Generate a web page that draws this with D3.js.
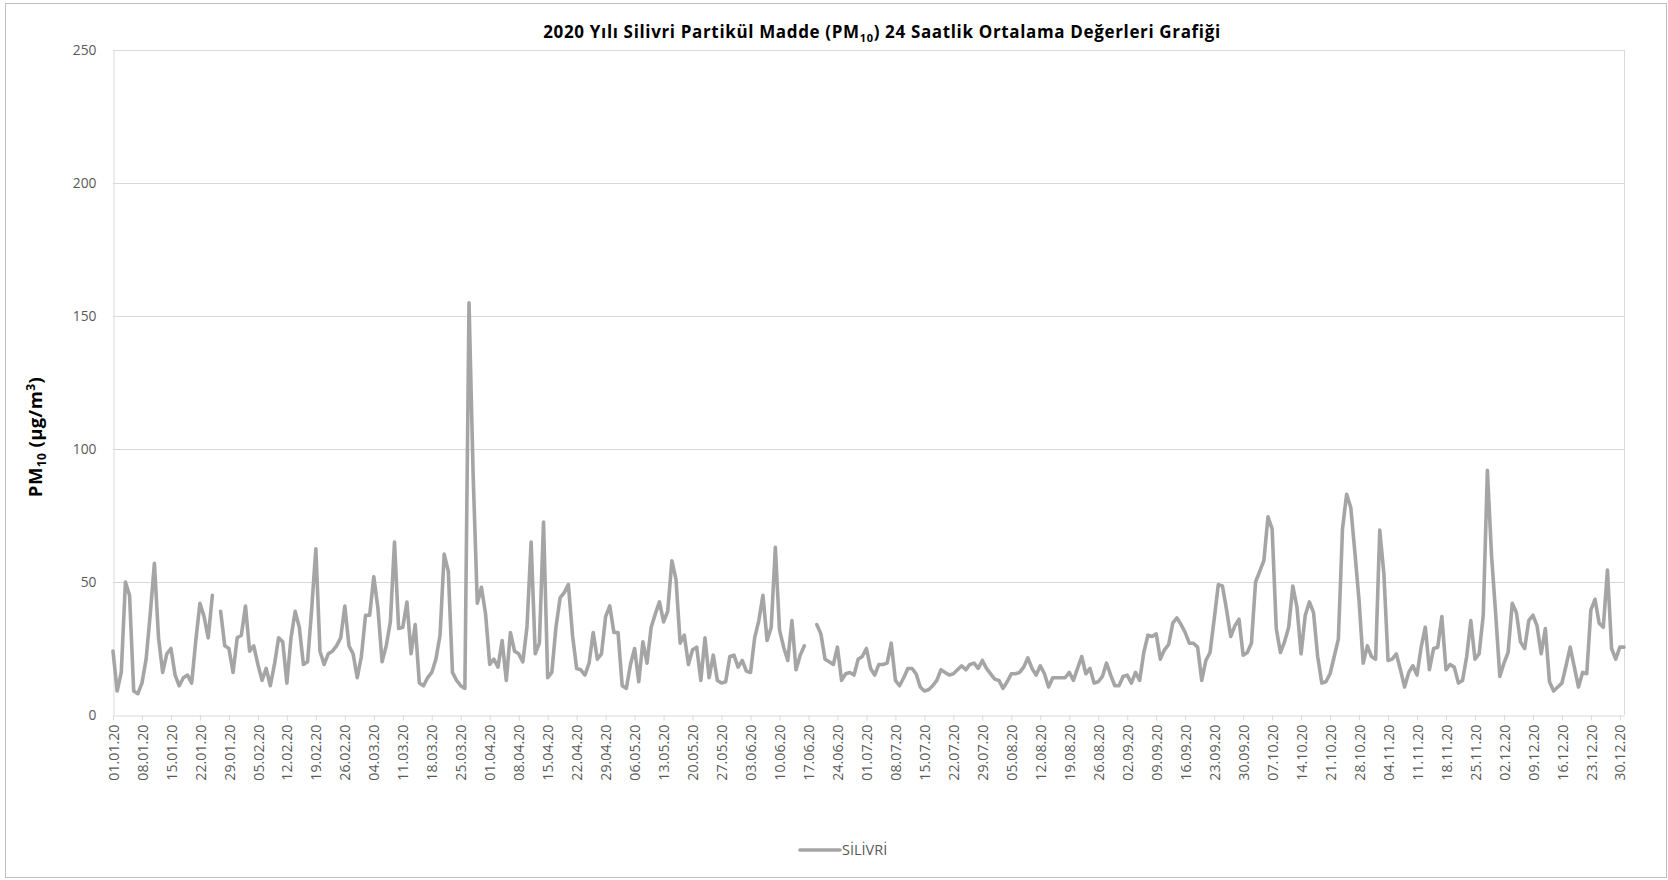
<!DOCTYPE html>
<html>
<head>
<meta charset="utf-8">
<script src="https://cdn.jsdelivr.net/npm/d3@7"></script>
<style>
  html, body { margin: 0; padding: 0; background: #fff; }
  svg { display: block; }
  text { font-family: "Open Sans", "DejaVu Sans", sans-serif; }
</style>
</head>
<body>
<svg id="chart" width="1668" height="880"></svg>
<script>
// Daily PM10 24-hour averages for Silivri, 2020 (µg/m³); null = no measurement
const seriesName = "SİLİVRİ";
const startDate = "2020-01-01";
const pm10 = [
  24, 9, 16, 50, 45, 9, 8, 12, 21, 38,
  57, 29, 16, 23, 25, 15, 11, 14, 15, 12,
  28, 42, 37, 29, 45, null, 39, 26, 25, 16,
  29, 30, 41, 24, 26, 19, 13, 17.5, 11, 19,
  29, 27.5, 12, 29, 39, 33, 19, 20, 40, 62.5,
  24, 19, 23, 24, 26, 29, 41, 26, 23, 14,
  22, 37.5, 37.5, 52, 40, 20, 26, 35, 65, 32.5,
  33, 42.5, 23, 34, 12, 11, 14, 16, 21, 30,
  60.5, 54, 16, 13, 11, 10, 155, 90, 42, 48,
  38, 19, 21, 18, 28, 13, 31, 24, 23, 20,
  33, 65, 23, 27, 72.5, 14, 16, 33, 44, 46,
  49, 30, 17.5, 17, 15, 19.5, 31, 21, 23, 37,
  41, 31, 31, 11, 10, 19, 25, 12.5, 27.5, 19.5,
  33, 38, 42.5, 35, 39, 58, 51, 27, 30, 19,
  24.5, 25.5, 13, 29, 14, 22.5, 13, 12, 12.5, 22,
  22.5, 18, 20.5, 16.5, 16, 29, 35.5, 45, 28, 33,
  63, 32, 25.5, 20.5, 35.5, 17, 22.5, 26, null, null,
  34, 30.5, 21, 20, 19, 25.5, 13, 15.5, 16, 15,
  21, 22, 25, 17.5, 15, 19, 19, 19.5, 27, 13,
  11, 14, 17.5, 17.5, 15.5, 10.5, 9, 9.5, 11, 13,
  17, 16, 15, 15.5, 17, 18.5, 17, 19, 19.5, 17.5,
  20.5, 17.5, 15.5, 13.5, 13, 10, 12.5, 15.5, 15.5, 16,
  18, 21.5, 17.5, 15, 18.5, 15.5, 10.5, 14, 14, 14,
  14, 16, 13, 17.5, 22, 15.5, 17.5, 12, 12.5, 14.5,
  19.5, 15, 11, 11, 14.5, 15, 12, 16, 13, 23.5,
  30, 29.5, 30.5, 21, 24.5, 26.5, 34.5, 36.5, 34, 31,
  27, 27, 25.5, 13, 20.5, 23.5, 36, 49, 48.5, 39.5,
  29.5, 33.5, 36, 22.5, 23.5, 27, 50, 54, 58, 74.5,
  70, 32.5, 23.5, 27.5, 33, 48.5, 40.5, 23, 37.5, 42.5,
  38.5, 22, 12, 12.5, 15.5, 22, 28.5, 70, 83, 78,
  61, 43, 19.5, 26, 22, 21, 69.5, 53, 20.5, 21,
  23, 17, 10.5, 16, 18.5, 15, 25.5, 33, 17, 25,
  25.5, 37, 17, 19, 18, 12, 13, 22, 35.5, 21,
  23, 37.5, 92, 60, 38, 14.5, 19.5, 23.5, 42, 38.5,
  27.5, 25, 35.5, 37.5, 33.5, 23, 32.5, 12.5, 9, 10.5,
  12, 18.5, 25.5, 18, 10.5, 16, 15.5, 39.5, 43.5, 34.5,
  33, 54.5, 25, 21, 25.5, 25.5
];
const yTicks = [0, 50, 100, 150, 200, 250];
const tickEveryDays = 7;

// Category axis: one entry per day of the year
const parseDay = d3.timeParse("%Y-%m-%d");
const first = parseDay(startDate);
const days = d3.timeDay.range(first, d3.timeDay.offset(first, pm10.length));
const fmtDay = d3.timeFormat("%d.%m.%y");
const tickDays = days.filter((d, i) => i % tickEveryDays === 0);

const svg = d3.select("#chart");
const W = 1668, H = 880;
const plot = { left: 113, right: 1624, top: 50, bottom: 715 };

const x = d3.scaleTime().domain([days[0], days[days.length - 1]]).range([plot.left, plot.right]);
const y = d3.scaleLinear().domain([0, 250]).range([plot.bottom, plot.top]);

const gridColor = "#d9d9d9";
const lineColor = "#a5a5a5";
const labelColor = "#595959";

// Chart frame
svg.append("rect")
  .attr("x", 5.5).attr("y", 3.5)
  .attr("width", W - 7).attr("height", H - 6)
  .attr("fill", "none").attr("stroke", "#bfbfbf").attr("stroke-width", 1);

// Horizontal gridlines
svg.append("g")
  .selectAll("line")
  .data(yTicks.filter(v => v > 0))
  .join("line")
  .attr("x1", plot.left).attr("x2", plot.right)
  .attr("y1", d => Math.round(y(d)) + 0.5).attr("y2", d => Math.round(y(d)) + 0.5)
  .attr("stroke", gridColor).attr("stroke-width", 1);

// Right edge of the plot area
svg.append("line")
  .attr("x1", plot.right + 0.5).attr("x2", plot.right + 0.5)
  .attr("y1", plot.top).attr("y2", plot.bottom)
  .attr("stroke", gridColor);

// Y axis
const yAxis = svg.append("g")
  .attr("transform", `translate(${plot.left + 0.5},0)`)
  .call(d3.axisLeft(y).tickValues(yTicks).tickSize(0).tickPadding(17));
yAxis.select(".domain").attr("stroke", gridColor);
yAxis.selectAll("text")
  .attr("fill", labelColor)
  .style("font-size", "13.8px");

// X axis with rotated date labels
const xAxis = svg.append("g")
  .attr("transform", `translate(0,${plot.bottom + 0.5})`)
  .call(d3.axisBottom(x).tickValues(tickDays).tickFormat(fmtDay).tickSize(5).tickSizeOuter(0));
xAxis.select(".domain").attr("stroke", gridColor);
xAxis.selectAll(".tick line").attr("stroke", gridColor);
xAxis.selectAll("text")
  .attr("transform", "rotate(-90)")
  .attr("x", -9).attr("y", 0).attr("dy", "0.36em")
  .style("text-anchor", "end")
  .attr("fill", labelColor)
  .style("font-size", "14.2px");

// PM10 series
const line = d3.line()
  .defined(d => d != null)
  .x((d, i) => x(days[i]))
  .y(d => y(d));

svg.append("path")
  .datum(pm10)
  .attr("d", line)
  .attr("fill", "none")
  .attr("stroke", lineColor)
  .attr("stroke-width", 3.6)
  .attr("stroke-linejoin", "round")
  .attr("stroke-linecap", "round");

// Title
const title = svg.append("text")
  .attr("x", 882).attr("y", 38)
  .attr("text-anchor", "middle")
  .style("font-size", "17px").style("font-weight", "bold")
  .style("letter-spacing", "0.65px")
  .attr("fill", "#000");
title.append("tspan").text("2020 Yılı Silivri Partikül Madde (PM");
title.append("tspan").attr("dy", 4).style("font-size", "11px").text("10");
title.append("tspan").attr("dy", -4).text(") 24 Saatlik Ortalama Değerleri Grafiği");

// Y axis title
const yTitle = svg.append("text")
  .attr("transform", "translate(42,437) rotate(-90)")
  .attr("text-anchor", "middle")
  .style("font-size", "18.5px").style("font-weight", "bold")
  .style("letter-spacing", "0.4px")
  .attr("fill", "#000");
yTitle.append("tspan").text("PM");
yTitle.append("tspan").attr("dy", 4).style("font-size", "12px").text("10");
yTitle.append("tspan").attr("dy", -4).text(" (µg/m");
yTitle.append("tspan").attr("dy", -7).style("font-size", "12px").text("3");
yTitle.append("tspan").attr("dy", 7).text(")");

// Legend
const legend = svg.append("g").attr("transform", "translate(800,850)");
legend.append("line")
  .attr("x1", 0).attr("x2", 40).attr("y1", 0).attr("y2", 0)
  .attr("stroke", lineColor).attr("stroke-width", 3.6).attr("stroke-linecap", "round");
legend.append("text")
  .attr("x", 42).attr("y", 0).attr("dy", "0.36em")
  .attr("fill", labelColor)
  .style("font-size", "14.5px")
  .text(seriesName);
</script>
</body>
</html>
